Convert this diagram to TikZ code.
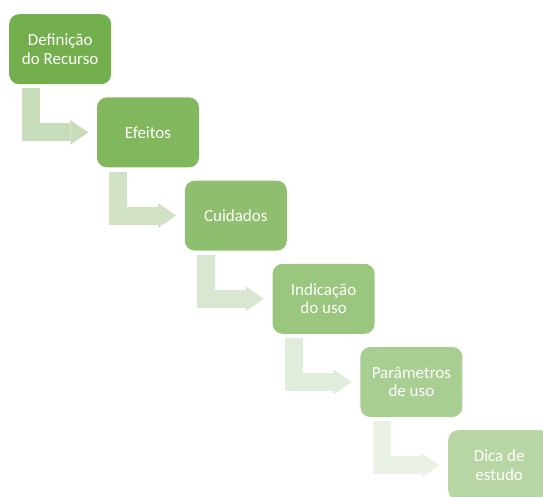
\documentclass[tikz,border=0pt]{standalone}
\usepackage{fontspec}
\setmainfont{Carlito}
\usepackage{tikz}
\usetikzlibrary{arrows.meta}
\usetikzlibrary{calc}

\definecolor{verde}{HTML}{70AD47}
\colorlet{verdeseta}{verde!85!gray}

\begin{document}
\begin{tikzpicture}[x=1pt, y=1pt,
  caixa/.style={rectangle, rounded corners=10pt, minimum width=102pt, minimum height=70pt,
    anchor=north west, align=center, inner sep=0pt, text=white,
    font=\fontsize{17}{18.5}\selectfont},
  seta/.style={line width=18pt, -{Triangle[length=18pt, width=25pt, line width=0pt]},
    shorten >=8.5pt}]

\def\dx{87.8};
\def\dy{83.2};

\useasboundingbox (0,0) rectangle (543,-496);
\clip (0,0) rectangle (543,-496);

\node[caixa, fill=verde!97] (def) at (9, -14) {Definição\\do Recurso};
\node[caixa, fill=verde!88] (efe) at (9 + \dx, -14 - \dy) {Efeitos};
\node[caixa, fill=verde!79] (cui) at (9 + 2*\dx, -14 - 2*\dy) {Cuidados};
\node[caixa, fill=verde!70] (ind) at (9 + 3*\dx, -14 - 3*\dy) {Indicação\\do uso};
\node[caixa, fill=verde!60] (par) at (9 + 4*\dx, -14 - 4*\dy) {Parâmetros\\de uso};
\node[caixa, fill=verde!50] (dica) at (9 + 5*\dx, -14 - 5*\dy) {Dica de\\estudo};

% setas em L
\draw[seta, verdeseta!40] ($(def.south west) + (21.5,-4)$) |- (efe.west);
\draw[seta, verdeseta!33] ($(efe.south west) + (21.5,-4)$) |- (cui.west);
\draw[seta, verdeseta!27] ($(cui.south west) + (21.5,-4)$) |- (ind.west);
\draw[seta, verdeseta!21] ($(ind.south west) + (21.5,-4)$) |- (par.west);
\draw[seta, verdeseta!15] ($(par.south west) + (21.5,-4)$) |- (dica.west);

\end{tikzpicture}
\end{document}
